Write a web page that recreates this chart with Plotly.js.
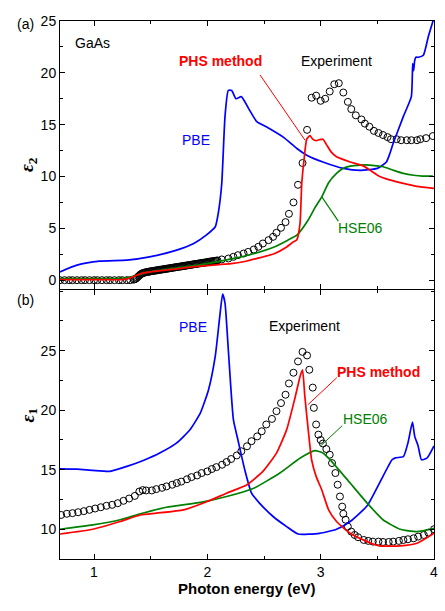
<!DOCTYPE html>
<html><head><meta charset="utf-8">
<script src="https://cdn.plot.ly/plotly-3.0.1.min.js"></script>
<style>html,body{margin:0;padding:0;background:#fff}#chart{width:445px;height:611px}</style>
</head><body><div id="chart"></div>
<script>
// ---------- (a) epsilon_2 ----------
const e2ExpX=[0.70,0.74,0.78,0.81,0.85,0.89,0.92,0.96,1.00,1.03,1.07,1.11,1.14,1.18,1.22,1.25,1.29,1.32,
1.35,1.36,1.37,1.38,1.39,1.40,1.41,1.42,1.43,1.44,1.45,1.46,1.47,1.48,1.49,1.50,1.51,1.52,1.53,1.54,1.55,1.56,1.57,1.58,1.59,1.60,1.61,1.62,1.63,1.64,1.65,1.66,1.67,1.68,1.69,1.70,1.71,1.72,1.73,1.74,1.75,1.76,1.77,1.78,1.79,1.80,1.81,1.82,1.83,1.84,1.85,1.86,1.87,1.88,1.89,1.90,1.91,1.92,1.93,1.94,1.95,1.96,1.97,1.98,1.99,2.00,2.01,2.02,2.03,2.04,2.05,2.06,2.07,2.08,2.09,
2.127,2.186,2.23,2.27,2.32,2.36,2.41,2.45,2.49,2.54,2.58,2.61,2.65,2.69,2.72,2.76,2.80,2.84,2.88,
2.92,2.96,3.00,3.04,3.08,3.12,3.16,3.20,3.24,3.27,3.31,3.36,3.39,3.43,3.47,3.51,3.55,3.59,3.62,3.67,3.71,3.76,3.80,3.85,3.88,3.93,3.99];
const e2ExpY=[0,0,0,0,0,0,0,0,0,0,0,0,0,0,0,0,0,0,
0.05,0.09,0.15,0.24,0.35,0.45,0.55,0.62,0.68,0.71,0.74,0.77,0.79,0.81,0.83,0.85,0.87,0.89,0.91,0.92,0.94,0.96,0.98,1.00,1.01,1.03,1.05,1.06,1.08,1.10,1.12,1.13,1.15,1.17,1.19,1.21,1.23,1.24,1.26,1.28,1.30,1.31,1.33,1.35,1.37,1.38,1.40,1.42,1.44,1.45,1.47,1.49,1.51,1.53,1.55,1.56,1.58,1.60,1.62,1.63,1.65,1.67,1.69,1.70,1.72,1.74,1.76,1.78,1.80,1.81,1.83,1.85,1.87,1.88,1.90,
2.00,2.09,2.25,2.41,2.57,2.73,2.96,3.22,3.54,3.86,4.18,4.57,5.05,5.6,6.4,7.5,9.2,11.3,14.5,
17.6,17.8,17.3,17.5,18.2,18.9,19.0,18.1,17.2,16.5,15.9,15.5,15.1,14.8,14.4,14.2,14.0,13.8,13.6,13.6,13.5,13.5,13.5,13.5,13.6,13.7,13.9];

const e2PbeX=[0.70,0.85,1.05,1.29,1.49,1.73,1.88,1.99,2.07,2.097,2.127,2.156,2.185,2.215,2.253,2.30,2.362,2.436,2.52,2.67,2.79,2.877,3.02,3.20,3.35,3.50,3.58,3.61,3.64,3.73,3.80,3.812,3.82,3.83,3.84,3.862,3.906,3.95,3.994];
const e2PbeY=[0.8,1.45,1.83,1.93,2.25,2.9,3.54,4.34,5.15,6.5,9.3,15.8,18.3,18.3,17.5,17.7,16.6,15.3,14.8,13.8,12.7,12.06,11.4,10.78,10.6,10.78,11.4,12.2,13.2,15.8,17.7,20.9,20.2,21.2,21.5,21.5,21.7,23.5,25.1];

const e2PhsX=[0.70,1.00,1.25,1.30,1.34,1.38,1.42,1.50,1.63,1.80,1.92,2.10,2.21,2.35,2.44,2.59,2.70,2.76,2.79,2.818,2.833,2.853,2.877,2.906,2.93,2.96,2.99,3.02,3.05,3.09,3.14,3.26,3.38,3.45,3.52,3.60,3.73,3.85,4.00];
const e2PhsY=[0.05,0.05,0.05,0.15,0.3,0.5,0.65,0.8,0.96,1.18,1.35,1.5,1.6,1.85,2.1,2.55,3.2,3.7,3.9,5.5,9.3,11.6,13.6,13.95,13.6,13.45,13.55,13.6,13.1,12.4,11.9,11.4,11.0,10.5,10.0,9.7,9.33,9.05,8.85];

const e2HseX=[0.70,1.25,1.30,1.37,1.45,1.63,1.92,2.16,2.39,2.59,2.71,2.79,2.89,2.95,3.01,3.07,3.14,3.20,3.26,3.35,3.43,3.55,3.63,3.73,3.82,3.90,3.99];
const e2HseY=[0.15,0.18,0.25,0.45,0.7,1.03,1.45,1.93,2.5,3.2,3.86,4.34,5.8,7.0,8.04,9.4,10.3,10.8,11.0,11.1,11.1,10.94,10.65,10.3,10.12,10.04,10.04];

// ---------- (b) epsilon_1 ----------
const e1ExpX=[0.71,0.76,0.81,0.86,0.91,0.96,1.01,1.06,1.11,1.16,1.21,1.26,1.31,1.36,1.40,1.43,1.46,1.51,1.55,1.60,1.64,1.69,1.73,1.77,1.82,1.86,1.91,1.95,2.00,2.04,2.08,2.13,2.17,2.21,2.26,2.30,2.35,2.39,2.44,2.48,2.52,2.57,2.61,2.65,2.69,2.72,2.76,2.80,2.84,2.88,2.90,2.93,2.94,2.96,2.98,3.00,3.02,3.05,3.08,3.10,3.13,3.15,3.17,3.19,3.20,3.22,3.24,3.27,3.30,3.33,3.38,3.42,3.46,3.51,3.55,3.60,3.64,3.69,3.73,3.77,3.82,3.86,3.91,3.95,4.00];
const e1ExpY=[11.2,11.3,11.35,11.43,11.52,11.63,11.74,11.85,11.97,12.05,12.19,12.39,12.58,12.8,13.17,13.29,13.26,13.26,13.37,13.48,13.6,13.74,13.88,14.0,14.2,14.38,14.52,14.72,14.86,15.06,15.22,15.42,15.65,15.9,16.2,16.55,16.97,17.4,17.8,18.23,18.8,19.27,19.92,20.6,21.3,22.25,23.15,24.1,24.9,24.6,23.4,21.9,20.2,18.8,17.95,17.5,17.2,16.74,16.26,15.56,14.72,13.74,12.75,11.9,11.3,10.8,10.22,9.8,9.52,9.33,9.1,9.02,8.96,8.96,8.93,8.93,8.96,9.02,9.1,9.16,9.24,9.38,9.52,9.72,10.0];

const e1PbeX=[0.70,0.85,0.99,1.14,1.29,1.44,1.58,1.73,1.85,1.94,2.01,2.07,2.11,2.135,2.156,2.185,2.23,2.27,2.33,2.39,2.46,2.58,2.70,2.80,2.99,3.14,3.26,3.41,3.52,3.63,3.66,3.73,3.77,3.81,3.83,3.86,3.89,3.94,4.00];
const e1PbeY=[15.08,15.05,14.94,14.86,15.28,15.8,16.4,17.25,18.4,19.8,21.7,24.55,27.9,29.75,29.0,25.1,19.2,17.5,15.0,13.03,12.2,11.07,10.22,9.6,9.66,10.0,10.65,11.97,13.9,15.84,16.0,16.1,17.25,19.0,17.8,17.0,15.84,16.0,17.0];

const e1PhsX=[0.70,0.99,1.23,1.41,1.55,1.79,2.00,2.17,2.35,2.49,2.61,2.70,2.77,2.82,2.84,2.86,2.89,2.92,2.96,3.01,3.07,3.14,3.26,3.41,3.52,3.70,3.85,4.00];
const e1PhsY=[9.6,10.0,10.65,11.2,11.35,11.63,12.33,13.03,13.74,14.86,16.4,18.37,20.9,22.9,23.4,21.2,18.37,15.84,14.44,13.3,11.63,10.65,9.66,8.96,8.6,8.6,8.82,9.66];

const e1HseX=[0.70,0.99,1.23,1.41,1.64,1.94,2.17,2.41,2.64,2.82,2.95,3.02,3.11,3.26,3.41,3.55,3.70,3.85,4.00];
const e1HseY=[10.0,10.37,10.8,11.3,11.85,12.25,12.75,13.45,14.72,15.98,16.6,16.4,15.56,13.88,12.2,10.8,10.0,9.8,10.08];

const xTicks=[1,2,3,4];
const e2Ticks=[0,5,10,15,20,25];
const e1Ticks=[10,15,20,25];

const BLUE='#0000ff', RED='#ff0000', GREEN='#008000';
const FONT='Arial, "Liberation Sans", sans-serif';
const LW=1.7;

function expTrace(x,y,xa,ya){return {x:x,y:y,xaxis:xa,yaxis:ya,type:'scatter',mode:'markers',
  marker:{symbol:'circle-open',size:7,color:'#000',line:{width:1,color:'#000'}},hoverinfo:'skip'};}
function lineTrace(x,y,c,xa,ya){return {x:x,y:y,xaxis:xa,yaxis:ya,type:'scatter',mode:'lines',
  line:{color:c,width:LW,shape:'spline',smoothing:0.5},hoverinfo:'skip'};}

const data=[
  expTrace(e2ExpX,e2ExpY,'x2','y2'),
  lineTrace(e2PbeX,e2PbeY,BLUE,'x2','y2'),
  lineTrace(e2HseX,e2HseY,GREEN,'x2','y2'),
  lineTrace(e2PhsX,e2PhsY,RED,'x2','y2'),
  expTrace(e1ExpX,e1ExpY,'x','y'),
  lineTrace(e1PbeX,e1PbeY,BLUE,'x','y'),
  lineTrace(e1HseX,e1HseY,GREEN,'x','y'),
  lineTrace(e1PhsX,e1PhsY,RED,'x','y')
];

const axBase={showline:true,linecolor:'#000',linewidth:1,mirror:'allticks',ticks:'inside',ticklen:5,tickwidth:1,tickcolor:'#000',
  showgrid:false,zeroline:false,tickfont:{family:FONT,size:14,color:'#000'}};
const xMinor={ticks:'inside',ticklen:3,tickwidth:1,tickcolor:'#000',dtick:0.5,tick0:0,showgrid:false};
const yMinor={ticks:'inside',ticklen:3,tickwidth:1,tickcolor:'#000',dtick:2.5,tick0:0,showgrid:false};

function ann(text,x,y,color,xr,yr,bold){return {text:bold?'<b>'+text+'</b>':text,x:x,y:y,xref:xr,yref:yr,showarrow:false,
  font:{family:FONT,size:14,color:color}};}

const px2x=p=>(p-60)/374, py2y=p=>(559-p)/538;

const layout={
  width:445,height:611,paper_bgcolor:'#fff',plot_bgcolor:'#fff',showlegend:false,
  margin:{l:60,r:11,t:21,b:52},
  xaxis:Object.assign({},axBase,{domain:[0,1],anchor:'y',range:[0.7,4],tickvals:xTicks,minor:xMinor}),
  yaxis:Object.assign({},axBase,{domain:[0,0.5],anchor:'x',range:[7.5,30.1],tickvals:e1Ticks,minor:yMinor}),
  xaxis2:Object.assign({},axBase,{domain:[0,1],anchor:'y2',range:[0.7,4],tickvals:xTicks,showticklabels:false,minor:xMinor}),
  yaxis2:Object.assign({},axBase,{domain:[0.5019,1],anchor:'x2',range:[-0.85,25],tickvals:e2Ticks,minor:yMinor}),
  annotations:[
    Object.assign(ann('GaAs',0.815,22.85,'#000','x2','y2'),{xanchor:'left'}),
    ann('PHS method',2.12,21.1,RED,'x2','y2',true),
    ann('Experiment',3.14,21.1,'#000','x2','y2'),
    ann('PBE',1.90,13.5,BLUE,'x2','y2'),
    ann('HSE06',3.35,5.0,GREEN,'x2','y2'),
    ann('PBE',1.87,26.95,BLUE,'x','y'),
    ann('Experiment',2.86,27.1,'#000','x','y'),
    ann('PHS method',3.51,23.2,RED,'x','y',true),
    ann('HSE06',3.395,19.3,GREEN,'x','y'),
    {text:'(a)',x:px2x(15),y:py2y(14),xref:'paper',yref:'paper',showarrow:false,font:{family:FONT,size:14,color:'#000'}},
    {text:'(b)',x:px2x(15),y:py2y(300),xref:'paper',yref:'paper',showarrow:false,font:{family:FONT,size:14,color:'#000'}},
    {text:'<b><i>ε</i><sub>2</sub></b>',x:px2x(14),y:0.75,xref:'paper',yref:'paper',showarrow:false,textangle:-90,
      font:{family:'"Liberation Serif", serif',size:19,color:'#000'}},
    {text:'<b><i>ε</i><sub>1</sub></b>',x:px2x(14),y:0.25,xref:'paper',yref:'paper',showarrow:false,textangle:-90,
      font:{family:'"Liberation Serif", serif',size:19,color:'#000'}},
    {text:'<b>Photon energy (eV)</b>',x:0.5,y:py2y(599),xref:'paper',yref:'paper',showarrow:false,
      font:{family:FONT,size:15,color:'#000'}}
  ],
  shapes:[
    {type:'line',xref:'x2',yref:'y2',x0:2.465,y0:19.8,x1:2.862,y1:13.5,line:{color:RED,width:1}},
    {type:'line',xref:'x2',yref:'y2',x0:3.01,y0:8.04,x1:3.156,y1:5.7,line:{color:GREEN,width:1.2}},
    {type:'line',xref:'x',yref:'y',x0:3.142,y0:22.73,x1:2.89,y1:20.48,line:{color:RED,width:1}},
    {type:'line',xref:'x',yref:'y',x0:3.19,y0:18.7,x1:3.0,y1:17.0,line:{color:GREEN,width:1}}
  ]
};

Plotly.newPlot('chart',data,layout,{staticPlot:true,displayModeBar:false});
</script>
</body></html>
